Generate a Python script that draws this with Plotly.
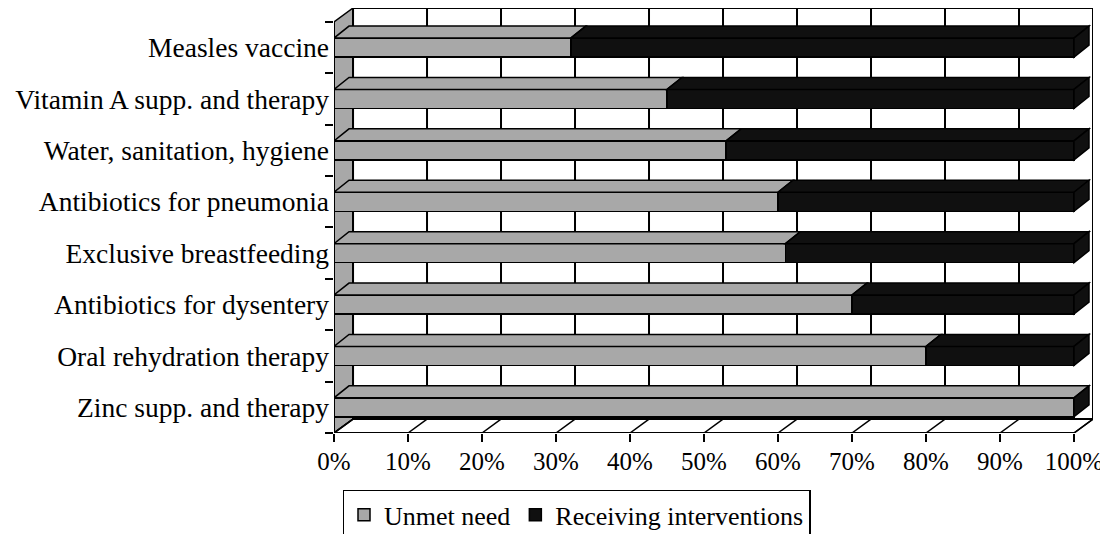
import plotly.graph_objects as go

# Data (top to bottom as in the reference)
categories = ["Measles vaccine", "Vitamin A supp. and therapy", "Water, sanitation, hygiene",
              "Antibiotics for pneumonia", "Exclusive breastfeeding", "Antibiotics for dysentery",
              "Oral rehydration therapy", "Zinc supp. and therapy"]
unmet_need = [32, 45, 53, 60, 61, 70, 80, 100]
receiving = [68, 55, 47, 40, 39, 30, 20, 0]
x_ticks = [0, 10, 20, 30, 40, 50, 60, 70, 80, 90, 100]
series_names = ["Unmet need", "Receiving interventions"]

# bottom-to-top order for plotting
cats = categories[::-1]
un = unmet_need[::-1]
rc = receiving[::-1]
ypos = list(range(len(cats)))

GREY = "#a8a8a8"
BLACK = "#101010"
FONT = "Liberation Serif"
FS = 26

# 3D geometry (axis units)
WD, WE = 2.57, 0.27   # wall depth offset (x %, y category units)
BD, BE = 2.03, 0.233  # bar depth offset
BH = 0.37             # bar front height
XMAX = 100

fig = go.Figure()
fig.add_trace(go.Bar(y=ypos, x=un, orientation="h", name=series_names[0], width=BH,
                     marker=dict(color=GREY, line=dict(color="black", width=1.5))))
fig.add_trace(go.Bar(y=ypos, x=rc, orientation="h", name=series_names[1], width=BH,
                     marker=dict(color=BLACK, line=dict(color="black", width=1.5))))

shapes = []
y0 = -0.5
y1 = len(cats) - 0.5
# left side wall
shapes.append(dict(type="path", xref="x", yref="y", layer="below",
                   path=f"M 0,{y0} L 0,{y1} L {WD},{y1+WE} L {WD},{y0+WE} Z",
                   fillcolor=GREY, line=dict(color="black", width=1.5)))
# floor
shapes.append(dict(type="path", xref="x", yref="y", layer="below",
                   path=f"M 0,{y0} L {XMAX},{y0} L {XMAX+WD},{y0+WE} L {WD},{y0+WE} Z",
                   fillcolor="white", line=dict(color="black", width=1.5)))
# back wall
shapes.append(dict(type="rect", xref="x", yref="y", layer="below",
                   x0=WD, x1=XMAX + WD, y0=y0 + WE, y1=y1 + WE,
                   fillcolor="white", line=dict(color="black", width=2)))
for v in x_ticks:
    shapes.append(dict(type="line", xref="x", yref="y", layer="below",
                       x0=v + WD, x1=v + WD, y0=y0 + WE, y1=y1 + WE,
                       line=dict(color="black", width=2)))
    shapes.append(dict(type="line", xref="x", yref="y", layer="below",
                       x0=v, x1=v + WD, y0=y0, y1=y0 + WE,
                       line=dict(color="black", width=1.5)))

# bar top faces and end faces
for yi, u, r in zip(ypos, un, rc):
    segs = [(0, u, GREY), (u, u + r, BLACK)]
    segs = [s for s in segs if s[1] > s[0]]
    yt = yi + BH / 2
    yb = yi - BH / 2
    for a, b, col in segs:
        shapes.append(dict(type="path", xref="x", yref="y", layer="above",
                           path=f"M {a},{yt} L {b},{yt} L {b+BD},{yt+BE} L {a+BD},{yt+BE} Z",
                           fillcolor=col, line=dict(color="black", width=1.5)))
    b = segs[-1][1]
    shapes.append(dict(type="path", xref="x", yref="y", layer="above",
                       path=f"M {b},{yb} L {b},{yt} L {b+BD},{yt+BE} L {b+BD},{yb+BE} Z",
                       fillcolor=BLACK, line=dict(color="black", width=1.5)))

# front axis lines
shapes.append(dict(type="line", xref="x", yref="y", x0=0, x1=XMAX, y0=y0, y1=y0,
                   line=dict(color="black", width=2)))
shapes.append(dict(type="line", xref="x", yref="y", x0=0, x1=0, y0=y0, y1=y1,
                   line=dict(color="black", width=2)))

# page body has an 8px margin, so the figure is sized/offset to compensate
fig.update_layout(
    barmode="stack",
    width=1100, height=526, autosize=False,
    margin=dict(l=326, r=15, t=0, b=101, autoexpand=False),
    paper_bgcolor="white", plot_bgcolor="white",
    font=dict(family=FONT, size=FS, color="black"),
    shapes=shapes,
    showlegend=True,
    legend=dict(orientation="h", x=0.3195, xanchor="center", y=-0.134, yanchor="top",
                bordercolor="black", borderwidth=1.5, font=dict(family=FONT, size=FS),
                traceorder="normal", itemwidth=30, bgcolor="white",
                tracegroupgap=0),
    xaxis=dict(range=[0, XMAX + WD], tickvals=x_ticks, ticktext=[f"{v}%" for v in x_ticks],
               ticks="outside", ticklen=8, tickwidth=1.5, tickcolor="black",
               showgrid=False, zeroline=False, showline=False, fixedrange=True,
               automargin=False, ticklabelstandoff=-2, tickfont=dict(family=FONT, size=25)),
    yaxis=dict(range=[y0, y1 + WE], tickvals=ypos, ticktext=cats, ticks="",
               minor=dict(tickmode="linear", tick0=-0.5, dtick=1, ticks="outside",
                          ticklen=8, tickwidth=1.5, tickcolor="black"),
               showgrid=False, zeroline=False, showline=False, fixedrange=True,
               automargin=False, ticklabelstandoff=4, tickfont=dict(family=FONT, size=27.5)),
)

fig.write_html("out.html")
